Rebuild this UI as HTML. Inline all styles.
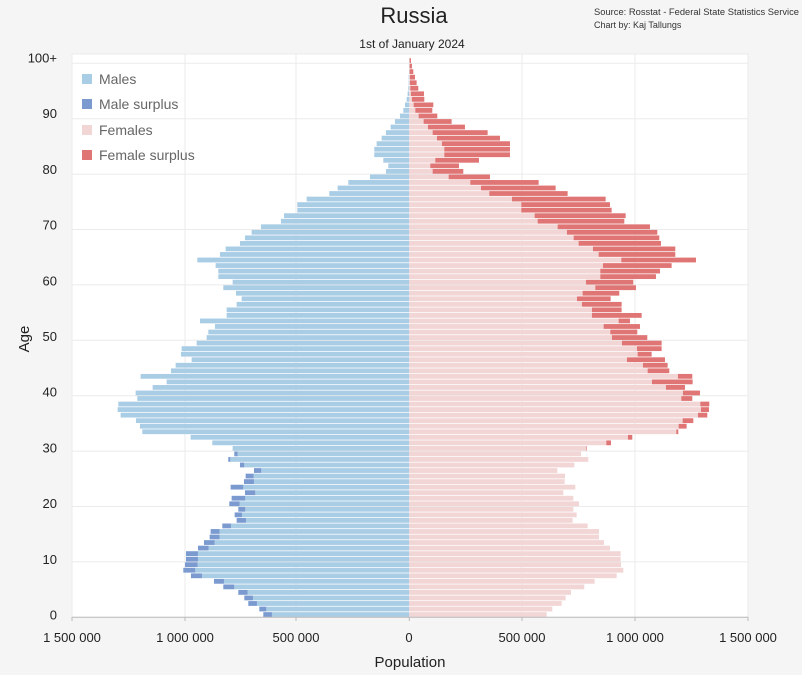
<!DOCTYPE html>
<html><head><meta charset="utf-8">
<style>
html,body{margin:0;padding:0;background:#f5f5f5;}
svg{display:block;font-family:"Liberation Sans",sans-serif;}
</style></head>
<body>
<svg id="c" width="802" height="675" xmlns="http://www.w3.org/2000/svg">
<rect x="0" y="0" width="802" height="675" fill="#f5f5f5"/>
<rect x="72" y="54" width="676" height="563" fill="#ffffff"/>
<g id="grid" stroke="#ebebeb" stroke-width="1"></g>
<g id="bars"></g>
<line x1="72" y1="617.3" x2="748" y2="617.3" stroke="#bbb"/>
<g stroke="#bbb"><line x1="72" y1="617" x2="72" y2="621"/><line x1="185" y1="617" x2="185" y2="621"/><line x1="296" y1="617" x2="296" y2="621"/><line x1="409.3" y1="617" x2="409.3" y2="621"/><line x1="522" y1="617" x2="522" y2="621"/><line x1="635" y1="617" x2="635" y2="621"/><line x1="748" y1="617" x2="748" y2="621"/></g>
<text x="414" y="23" text-anchor="middle" font-size="22" fill="#222">Russia</text>
<text x="412" y="48" text-anchor="middle" font-size="12" fill="#222">1st of January 2024</text>
<text x="594" y="15" font-size="9" fill="#333" textLength="205" lengthAdjust="spacingAndGlyphs">Source: Rosstat - Federal State Statistics Service</text>
<text x="594" y="28" font-size="9" fill="#333">Chart by: Kaj Tallungs</text>
<text transform="translate(29,339) rotate(-90)" text-anchor="middle" font-size="15" fill="#222">Age</text>
<text x="410" y="667" text-anchor="middle" font-size="15" fill="#222">Population</text>
<g font-size="13" fill="#222" text-anchor="middle">
<text x="72" y="642">1 500 000</text><text x="185" y="642">1 000 000</text><text x="296" y="642">500 000</text><text x="409" y="642">0</text><text x="522" y="642">500 000</text><text x="635" y="642">1 000 000</text><text x="748" y="642">1 500 000</text>
</g>
<g font-size="13" fill="#222" text-anchor="end" id="yl"></g>
<g font-size="14" fill="#666">
<rect x="82" y="74" width="10" height="10" fill="#aacde6"/><text x="99" y="84">Males</text>
<rect x="82" y="99" width="10" height="10" fill="#7b9bd0"/><text x="99" y="109">Male surplus</text>
<rect x="82" y="125" width="10" height="10" fill="#f2d5d5"/><text x="99" y="135">Females</text>
<rect x="82" y="150" width="10" height="10" fill="#e07575"/><text x="99" y="160">Female surplus</text>
</g>
</svg>
<script>
var M=[610,598,565,553,535,490,462,393,370,375,378,378,414,432,449,452,487,530,524,535,508,515,555,512,552,557,582,540,505,523,518,457,392,247,240,228,182,173,175,232,227,278,320,242,333,347,395,363,365,410,440,445,465,420,500,500,530,545,528,490,518,475,475,467,412,480,497,540,555,575,603,663,672,712,712,740,808,833,865,930,978,985,970,943,943,950,965,978,992,1005,1020,1030,1035,1040,1043,1045,1046,1046,1047,1047,1047];
var F=[440,457,485,497,513,553,584,650,670,663,662,662,630,612,597,597,563,518,530,520,537,520,490,526,494,495,472,523,565,543,560,633,697,835,860,880,922,927,928,877,900,855,878,877,808,803,795,755,785,785,742,712,720,690,725,665,665,632,658,708,700,768,780,815,888,826,826,783,778,772,750,673,677,635,630,617,503,467,416,270,190,177,237,330,330,330,300,263,195,155,112,97,100,73,72,55,50,45,40,36,33];
var ns="http://www.w3.org/2000/svg",C=409.3,b=document.getElementById("bars"),g=document.getElementById("grid"),yl=document.getElementById("yl");
function r(p,x,y,w,h,f){if(w<=0)return;var e=document.createElementNS(ns,"rect");e.setAttribute("x",x);e.setAttribute("y",y);e.setAttribute("width",w);e.setAttribute("height",h);e.setAttribute("fill",f);p.appendChild(e);}
function l(x1,y1,x2,y2){var e=document.createElementNS(ns,"line");e.setAttribute("x1",x1);e.setAttribute("y1",y1);e.setAttribute("x2",x2);e.setAttribute("y2",y2);g.appendChild(e);}
[72,185,296,522,635,748].forEach(function(x){l(x,54,x,617);});
for(var k=0;k<=10;k++){var y=617.3-55.4*k;l(72,y,748,y);}
l(72,54,748,54);
for(var k=0;k<=10;k++){var t=document.createElementNS(ns,"text");t.setAttribute("x",57);t.setAttribute("y",619.5-55.7*k);t.textContent=k==10?"100+":String(k*10);yl.appendChild(t);}
for(var a=0;a<=100;a++){
 var m=(1048-M[a])/3,f=(F[a]-28)/3,mn=Math.min(m,f);
 var y=617.3-5.54*(a+1)+0.4,h=4.8;
 r(b,C-mn,y,mn,h,"#aacde6");r(b,C,y,mn,h,"#f2d5d5");
 if(m>f)r(b,C-m,y,m-f,h,"#7b9bd0");
 if(f>m)r(b,C+m,y,f-m,h,"#e07575");
}
</script>
</body></html>
